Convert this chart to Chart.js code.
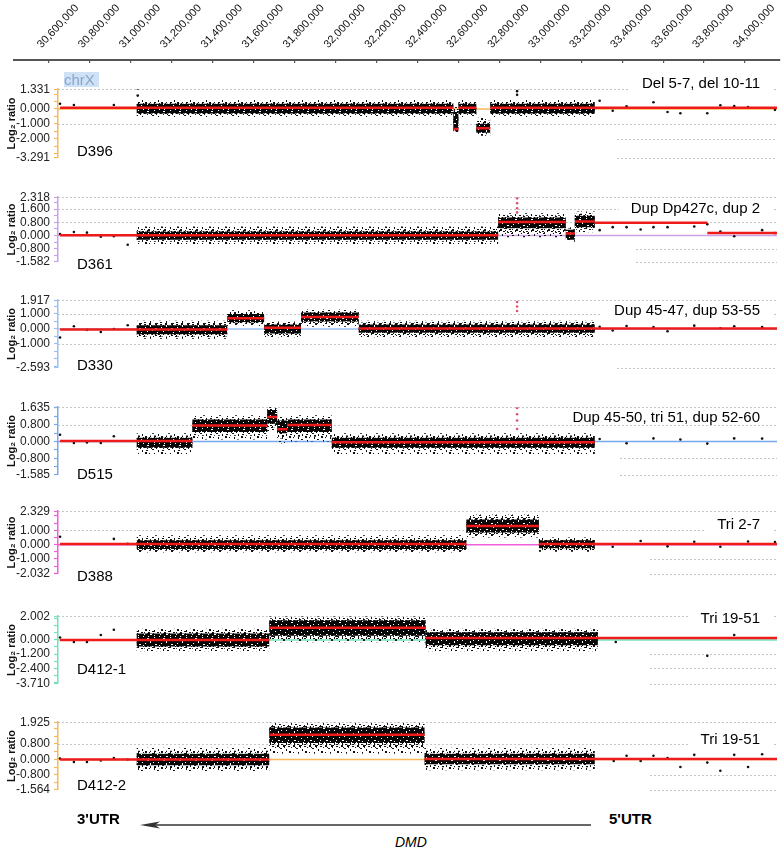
<!DOCTYPE html>
<html>
<head>
<meta charset="utf-8">
<script src="https://cdn.jsdelivr.net/npm/chart.js@4.4.0/dist/chart.umd.min.js"></script>
<style>
  body { margin: 0; background: #fff; overflow: hidden; font-family: "Liberation Sans", Arial, sans-serif; }
  #wrap { position: relative; width: 781px; height: 851px; }
  .lbl { position: absolute; font-size: 15px; line-height: 15px; color: #000; white-space: nowrap; }
  .note { background: #fff; padding: 0 12px; }
</style>
</head>
<body>
<div id="wrap">
  <canvas id="axisTop" width="768" height="64" style="position:absolute;left:13px;top:0"></canvas>
</div>
<script>
// genomic positions of the top ruler (bp)
const xTicks = [30600000, 30800000, 31000000, 31200000, 31400000, 31600000, 31800000, 32000000, 32200000,
  32400000, 32600000, 32800000, 33000000, 33200000, 33400000, 33600000, 33800000, 34000000];

const samples = ['D396', 'D361', 'D330', 'D515', 'D388', 'D412-1', 'D412-2'];
const calls = ['Del 5-7, del 10-11', 'Dup Dp427c, dup 2', 'Dup 45-47, dup 53-55',
  'Dup 45-50, tri 51, dup 52-60', 'Tri 2-7', 'Tri 19-51', 'Tri 19-51'];
const yMin = [-3.291, -1.582, -2.593, -1.585, -2.032, -3.710, -1.564];
const yMax = [1.331, 2.318, 1.917, 1.635, 2.329, 2.002, 1.925];
const yLabels = [
  [1.331, 0, -1, -2, -3.291],
  [2.318, 1.6, 0.8, 0, -0.8, -1.582],
  [1.917, 1, 0, -1, -2.593],
  [1.635, 0.8, 0, -0.8, -1.585],
  [2.329, 1, 0, -1, -2.032],
  [2.002, 0, -1.2, -2.4, -3.71],
  [1.925, 0.8, 0, -0.8, -1.564]
];
const yMinorStep = [0.5, 0.4, 0.5, 0.4, 0.5, 0.6, 0.4];

// segment means: [start kb, end kb, log2 ratio]
const segD396 = [[30654, 32583, 0.08], [32583, 32608, -1.35], [32608, 32696, 0.08], [32696, 32764, -1.3], [32764, 34171, 0.08]];
const segD361 = [[30654, 32803, 0.02], [32803, 33135, 0.82], [33135, 33179, 0.12], [33179, 33277, 0.85], [33277, 33829, 0.78], [33829, 34171, 0.15]];
const segD330 = [[30654, 31474, -0.03], [31474, 31655, 0.72], [31655, 31836, 0.08], [31836, 32119, 0.8], [32119, 34171, 0.03]];
const segD515 = [[30654, 31303, 0.03], [31303, 31670, 0.76], [31670, 31719, 1.17], [31719, 31768, 0.58], [31768, 31987, 0.79], [31987, 33277, -0.04]];
const segD388 = [[30654, 32647, 0.05], [32647, 33003, 1.3], [33003, 34171, 0.05]];
const segD412a = [[30654, 31680, 0.0], [31680, 32447, 1.03], [32447, 34171, 0.17]];
const segD412b = [[30654, 31680, 0.0], [31680, 32442, 1.28], [32442, 34171, 0.03]];

// probe clouds: [start kb, end kb, dense low, dense high, sparse low, sparse high]
const cloudD396 = [[31030, 32583, -0.3, 0.35, -0.55, 0.6], [32583, 32608, -1.5, -0.2, -1.7, 0.2], [32608, 32696, -0.3, 0.35, -0.55, 0.6],
  [32696, 32764, -1.6, -1.0, -1.8, -0.6], [32764, 33277, -0.3, 0.35, -0.55, 0.6]];
const cloudD361 = [[31030, 32803, -0.25, 0.25, -0.5, 0.55], [32803, 33135, 0.45, 1.1, -0.1, 1.35], [33135, 33179, -0.25, 0.35, -0.4, 0.5],
  [33179, 33277, 0.5, 1.2, 0.2, 1.45]];
const cloudD330 = [[31030, 31474, -0.35, 0.25, -0.65, 0.55], [31474, 31655, 0.45, 1.0, 0.2, 1.25], [31655, 31836, -0.3, 0.3, -0.55, 0.5],
  [31836, 32119, 0.5, 1.1, 0.15, 1.3], [32119, 33277, -0.25, 0.3, -0.55, 0.55]];
const cloudD515 = [[31030, 31303, -0.3, 0.18, -0.6, 0.4], [31303, 31670, 0.45, 1.05, 0.1, 1.25], [31670, 31719, 0.85, 1.5, 0.5, 1.65],
  [31719, 31768, 0.4, 1.0, -0.1, 1.2], [31768, 31987, 0.45, 1.05, 0.0, 1.25], [31987, 33277, -0.3, 0.18, -0.6, 0.4]];
const cloudD388 = [[31030, 32647, -0.3, 0.3, -0.55, 0.65], [32647, 33003, 0.85, 1.75, 0.5, 2.1], [33003, 33277, -0.25, 0.3, -0.5, 0.5]];
const cloudD412a = [[31030, 31680, -0.55, 0.55, -0.95, 0.95], [31680, 32447, 0.35, 1.65, -0.2, 2.0], [32447, 33292, -0.45, 0.65, -0.95, 0.95]];
const cloudD412b = [[31030, 31680, -0.3, 0.3, -0.6, 0.6], [31680, 32442, 0.85, 1.65, 0.3, 1.9], [32442, 33277, -0.25, 0.3, -0.55, 0.6]];

// isolated probes: [kb, log2 ratio]
const probesD396 = [[30654, 0.35], [30722, 0.27], [30918, 0.27], [31035, 1.37], [31035, 0.9], [32896, 1.2], [32896, 0.95], [33301, 0.55],
  [33365, -0.12], [33433, 0.18], [33565, 0.45], [33634, -0.21], [33697, -0.29], [33829, -0.29], [33893, 0.25], [33961, 0.19], [34029, 0.12], [34161, -0.06]];
const probesD361 = [[30654, 0.1], [30722, 0.22], [30786, 0.18], [30854, -0.07], [30918, -0.04], [30986, -0.55], [33301, 0.33], [33365, 0.51],
  [33433, 0.51], [33502, 0.37], [33565, 0.51], [33634, 0.51], [33765, 0.55], [33829, 0.69], [33893, 0.24], [33961, -0.04], [34098, 0.33], [34161, 0.15]];
const probesD330 = [[30654, -0.57], [30722, 0.18], [30786, -0.06], [30854, -0.2], [30918, 0], [30986, 0.25],
  [33301, 0.15], [33365, -0.1], [33433, 0.2], [33565, 0.12], [33634, -0.15], [33765, 0.22], [33893, 0.05], [33961, 0.18], [34098, 0.12]];
const probesD515 = [[30654, 0.32], [30722, -0.07], [30786, -0.05], [30854, -0.07], [30918, 0.25],
  [33301, 0.12], [33433, -0.08], [33565, 0.15], [33697, 0.1], [33829, -0.1], [33961, 0.15], [34098, 0.14]];
const probesD388 = [[30654, 0.55], [30918, 0.4], [30986, 0.05],
  [33365, -0.15], [33502, 0.25], [33634, -0.12], [33765, 0.2], [33893, -0.15], [34029, 0.22], [34161, 0.18]];
const probesD412a = [[30654, 0.2], [30722, -0.18], [30786, -0.18], [30854, 0.41], [30918, 0.86], [33380, -0.18], [33829, -1.35], [33961, 0.41]];
const probesD412b = [[30654, 0.05], [30722, -0.13], [30786, -0.13], [30854, -0.05], [30918, 0.08], [30986, 0], [33370, -0.08], [33433, 0.19],
  [33502, -0.08], [33565, 0.19], [33634, 0.08], [33697, -0.39], [33765, 0.24], [33829, -0.16], [33893, -0.58], [33961, 0.24], [34029, -0.39], [34098, 0.27]];
// high outlier column near 32.9 Mb
const spikeD361 = [[32896, 2.25], [32896, 1.95], [32896, 1.65], [32896, 1.4]];
const spikeD330 = [[32896, 1.8], [32896, 1.5], [32896, 1.2]];
const spikeD515 = [[32896, 1.6], [32896, 1.3], [32896, 1.0], [32896, 0.6]];

const segs = [segD396, segD361, segD330, segD515, segD388, segD412a, segD412b];
const clouds = [cloudD396, cloudD361, cloudD330, cloudD515, cloudD388, cloudD412a, cloudD412b];
const probes = [probesD396, probesD361, probesD330, probesD515, probesD388, probesD412a, probesD412b];
const spikes = [[], spikeD361, spikeD330, spikeD515, [], [], []];

// ---- layout / style ----
const X_MIN = 30643965, X_MAX = 34170935;
const RED = '#ee1b1b';
const panels = [
  {top: 86, bottom: 161, color: '#f6b85a', grid: [[1.331], [-1], [-2, 617], [-3.291, 617]], nameTop: 143, noteTop: 75},
  {top: 194, bottom: 265, color: '#c9a2ea', grid: [[2.318], [1.6], [0.8], [-0.8, 636], [-1.582, 636]], nameTop: 256, noteTop: 200},
  {top: 297, bottom: 371, color: '#9cc0f2', grid: [[1.917], [1], [-1], [-2.593, 617]], nameTop: 357, noteTop: 302},
  {top: 404, bottom: 478, color: '#78a8ee', grid: [[1.635], [0.8], [-0.8, 620], [-1.585, 620]], nameTop: 466, noteTop: 409},
  {top: 508, bottom: 577, color: '#ef5fd8', grid: [[2.329], [1], [-1, 650], [-2.032, 650]], nameTop: 568, noteTop: 516},
  {top: 613, bottom: 687, color: '#72e2bd', grid: [[2.002], [-1.2, 650], [-2.4, 650], [-3.71, 650]], nameTop: 661, noteTop: 610},
  {top: 719, bottom: 793, color: '#f6b85a', grid: [[1.925], [0.8], [-0.8, 650], [-1.564, 650]], nameTop: 777, noteTop: 731}
];

Chart.defaults.font.family = '"Liberation Sans", Arial, sans-serif';

// speckle textures for the dense probe clouds (16px tiles)
function stipple(base, marks, markColor) {
  const c = document.createElement('canvas');
  c.width = c.height = 16;
  const g = c.getContext('2d');
  if (base) { g.fillStyle = base; g.fillRect(0, 0, 16, 16); }
  g.fillStyle = markColor;
  marks.forEach(([x, y, w, h]) => g.fillRect(x, y, w, h));
  return g.createPattern(c, 'repeat');
}
const outerFill = stipple(null, [[0, 1, 2, 1], [6, 0, 1, 2], [11, 2, 2, 2], [3, 4, 1, 1], [8, 5, 2, 1], [14, 6, 1, 2],
  [1, 8, 2, 2], [5, 9, 1, 1], [10, 9, 1, 2], [13, 11, 2, 1], [3, 12, 1, 2], [7, 13, 2, 1], [12, 14, 1, 1],
  [0, 14, 1, 2], [15, 15, 1, 1], [9, 15, 1, 1]], '#111');
const midFill = stipple(null, [[2, 0, 1, 1], [9, 1, 2, 1], [14, 0, 1, 2], [0, 3, 2, 1], [5, 2, 2, 2], [12, 4, 1, 1],
  [2, 6, 2, 1], [10, 7, 2, 2], [6, 7, 1, 2], [15, 9, 1, 1], [0, 11, 1, 1], [8, 10, 2, 1], [4, 11, 2, 2],
  [11, 13, 1, 2], [14, 13, 2, 1], [1, 15, 2, 1], [6, 15, 1, 1], [9, 12, 1, 1], [13, 2, 1, 1], [7, 4, 1, 1]], '#111');
const coreFill = stipple('#070707', [[3, 1, 2, 1], [10, 0, 1, 1], [14, 3, 1, 1], [6, 4, 1, 2], [1, 6, 1, 1], [11, 7, 2, 1],
  [8, 9, 1, 1], [3, 10, 1, 1], [13, 11, 1, 1], [0, 13, 1, 1], [6, 13, 2, 1], [10, 14, 1, 1], [15, 15, 1, 1],
  [4, 15, 1, 1], [9, 3, 1, 1], [15, 8, 1, 1]], '#ffffff');

const dottedGrid = {
  id: 'dottedGrid',
  beforeDatasetsDraw(chart, args, opts) {
    const {ctx, chartArea, scales: {y}} = chart;
    ctx.save();
    ctx.strokeStyle = '#c6c6c6';
    ctx.lineWidth = 1;
    ctx.setLineDash([2, 2]);
    (opts.lines || []).forEach(([v, from]) => {
      const py = Math.round(y.getPixelForValue(v)) + 0.5;
      ctx.beginPath();
      ctx.moveTo(from !== undefined ? from : chartArea.left, py);
      ctx.lineTo(chartArea.right, py);
      ctx.stroke();
    });
    ctx.restore();
  }
};

// top ruler
new Chart(document.getElementById('axisTop'), {
  type: 'scatter',
  data: {datasets: []},
  options: {
    responsive: false,
    animation: false,
    layout: {padding: {left: 0, right: 1, top: 0, bottom: 1}},
    plugins: {legend: {display: false}, tooltip: {enabled: false}},
    scales: {
      x: {
        type: 'linear', position: 'top', min: 30424140, max: X_MAX,
        afterBuildTicks: (ax) => { ax.ticks = xTicks.map((v) => ({value: v})); },
        afterFit: (ax) => { ax.height = 60; ax.paddingLeft = 0; ax.paddingRight = 0; },
        ticks: {minRotation: 47, maxRotation: 47, autoSkip: false, padding: 9, color: '#111',
          font: {size: 11}, callback: (v) => Number(v).toLocaleString('en-US')},
        grid: {drawTicks: false, color: '#555', lineWidth: 1.2},
        border: {color: '#555', width: 2}
      },
      y: {display: false}
    }
  }
});

const wrap = document.getElementById('wrap');
const kb = (arr) => arr.map(([x, y]) => ({x: x * 1000, y: y}));
const band = (s, e, lo, hi, fillStyle, order) => ({
  data: kb([[s, hi], [e, hi], [e, lo], [s, lo]]), fill: 'shape', backgroundColor: fillStyle,
  borderWidth: 0, pointRadius: 0, order: order
});

panels.forEach((lay, i) => {
  const canvas = document.createElement('canvas');
  canvas.width = 781;
  canvas.height = lay.bottom - lay.top + 16;
  canvas.style.cssText = 'position:absolute;left:0;top:' + (lay.top - 8) + 'px';
  wrap.appendChild(canvas);

  const labelled = yLabels[i];
  const tickVals = labelled.slice();
  for (let v = 0; v <= yMax[i] + 1e-9; v += yMinorStep[i]) tickVals.push(+v.toFixed(3));
  for (let v = 0; v >= yMin[i] - 1e-9; v -= yMinorStep[i]) tickVals.push(+v.toFixed(3));
  const ticks = [...new Set(tickVals)].filter((v) => v >= yMin[i] && v <= yMax[i]).sort((a, b) => a - b);

  const datasets = [];
  datasets.push({data: [{x: X_MIN, y: 0}, {x: X_MAX, y: 0}], borderColor: lay.color, borderWidth: 1.5,
    pointRadius: 0, order: 8});
  clouds[i].forEach(([s, e, lo, hi, lo2, hi2]) => {
    datasets.push(band(s, e, lo2, hi2, outerFill, 7));
    datasets.push(band(s, e, (lo + lo2) / 2, (hi + hi2) / 2, midFill, 6));
    datasets.push(band(s, e, lo, hi, coreFill, 5));
  });
  datasets.push({data: kb(probes[i]), showLine: false, pointRadius: 1.3, pointBackgroundColor: '#111',
    pointBorderWidth: 0, order: 3});
  segs[i].forEach(([s, e, m]) => {
    datasets.push({data: kb([[s, m], [e, m]]), borderColor: RED, borderWidth: 2.5, pointRadius: 0, order: 2});
  });
  datasets.push({data: kb(spikes[i]), showLine: false, pointRadius: 1.3, pointBackgroundColor: '#e0506a',
    pointBorderWidth: 0, order: 1});

  new Chart(canvas, {
    type: 'line',
    data: {datasets: datasets},
    plugins: [dottedGrid],
    options: {
      responsive: false,
      animation: false,
      layout: {padding: {top: 8, bottom: 8, right: 1, left: 0}},
      plugins: {legend: {display: false}, tooltip: {enabled: false}, dottedGrid: {lines: lay.grid}},
      scales: {
        x: {type: 'linear', display: false, min: X_MIN, max: X_MAX},
        y: {
          min: yMin[i], max: yMax[i],
          afterBuildTicks: (ax) => { ax.ticks = ticks.map((v) => ({value: v})); },
          afterFit: (ax) => { ax.width = 58; },
          ticks: {autoSkip: false, padding: 4, color: '#222', font: {size: 12},
            callback: (v) => (labelled.includes(v) ? Number(v).toFixed(3) : '')},
          grid: {drawOnChartArea: false, tickLength: 4, tickColor: lay.color, tickWidth: 1.2},
          border: {color: lay.color, width: 1.5},
          title: {display: true, text: 'Log₂ ratio', color: '#111', font: {size: 11, weight: 'bold'},
            padding: {top: 5, bottom: 0}}
        }
      }
    }
  });

  const name = document.createElement('div');
  name.className = 'lbl';
  name.style.cssText = 'left:77px;top:' + lay.nameTop + 'px';
  name.textContent = samples[i];
  wrap.appendChild(name);

  const note = document.createElement('div');
  note.className = 'lbl note';
  note.style.cssText = 'right:9px;top:' + lay.noteTop + 'px';
  note.textContent = calls[i];
  wrap.appendChild(note);
});
</script>
<div class="lbl" style="left:64px;top:72px;width:35px;height:15px;background:#cfe1f5;color:#86a6cf">chrX</div>
<div class="lbl" style="left:77px;top:811px;font-weight:bold">3'UTR</div>
<div class="lbl" style="left:609px;top:811px;font-weight:bold">5'UTR</div>
<div class="lbl" style="left:395px;top:835px;font-size:14px;font-style:italic">DMD</div>
<svg style="position:absolute;left:0;top:810px" width="781" height="30">
  <line x1="150" y1="15" x2="591" y2="15" stroke="#333" stroke-width="1.5"/>
  <polygon points="140,15 160,11.5 155,15 160,18.5" fill="#333"/>
</svg>
</body>
</html>
